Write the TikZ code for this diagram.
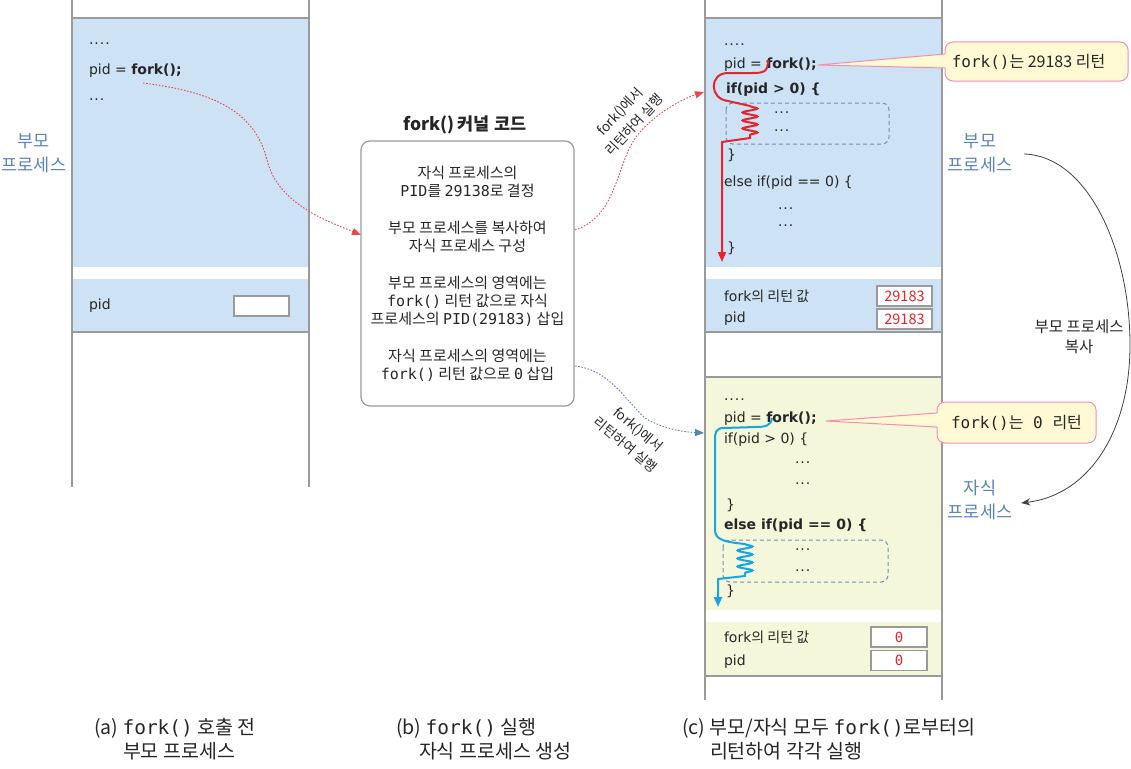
\documentclass[tikz,border=0pt]{standalone}
\usepackage{fontspec}
\setmainfont{Noto Sans CJK KR}
\setmonofont{DejaVu Sans Mono}
\newfontfamily\codefont{DejaVu Sans}
\usetikzlibrary{arrows.meta,decorations.pathmorphing}
\definecolor{pblue}{HTML}{CDE3F5}
\definecolor{cyell}{HTML}{F4F7DA}
\definecolor{lblue}{HTML}{5B84B8}
\definecolor{framec}{HTML}{9A9A9A}
\definecolor{fred}{HTML}{E8232B}
\definecolor{fcyan}{HTML}{17A5E6}
\definecolor{callfill}{HTML}{FFF9D4}
\definecolor{callline}{HTML}{F48DB4}
\definecolor{darr}{HTML}{5A82B0}
\definecolor{dashbox}{HTML}{7090B8}
\begin{document}
\begin{tikzpicture}[x=1pt,y=-1pt,
  every node/.style={inner sep=0pt, outer sep=0pt},
  codetxt/.style={anchor=west, font=\codefont\fontsize{14}{16}\selectfont, text=black!85},
  plabel/.style={align=center, text=lblue, font=\fontsize{17.5}{23.5}\selectfont},
  valbox/.style={draw=framec, fill=white, line width=1.2, minimum width=55, minimum height=20},
  rednum/.style={valbox, text=fred, font=\fontsize{14.5}{16}\selectfont},
  frameline/.style={draw=framec, line width=1.3},
  dbox/.style={draw=dashbox, dash pattern=on 4pt off 3pt, line width=1, rounded corners=7},
  callout/.style={draw=callline, fill=callfill, line width=1, rounded corners=8, font=\fontsize{16}{17}\selectfont, text=black!85},
  reddot/.style={draw=fred!85, line width=0.9, dash pattern=on 1.6pt off 1.6pt, -{Triangle[length=9,width=7]}},
  bluedot/.style={draw=darr, line width=0.9, dash pattern=on 1.6pt off 1.6pt, -{Triangle[length=9,width=7]}},
  rotlab/.style={align=center, font=\fontsize{13.5}{20}\selectfont, text=black!85},
  caption/.style={anchor=north west, align=left, font=\fontsize{19.5}{24}\selectfont, text=black!85},
  coil/.style={decoration={snake, amplitude=7.5pt, segment length=8pt}}
]
\useasboundingbox (0,0) rectangle (1131,768);

% ---------- left panel ----------
\fill[pblue] (72,18) rectangle (309,267);
\fill[pblue] (72,279) rectangle (309,332);
\draw[frameline] (72,0) -- (72,487) (309,0) -- (309,487) (72,18) -- (309,18) (72,332) -- (309,332);
\node[codetxt] (l1) at (89,44) {.\kern1pt.\kern1pt.\kern1pt.};
\node[codetxt] (l2) at (89,71) {pid = \textbf{fork();}};
\node[codetxt] (l3) at (89,100) {.\kern1pt.\kern1pt.};
\node[codetxt] (l4) at (89,306) {pid};
\node[valbox] (l5) at (261.5,306) {};
\node[plabel] (lpl) at (34,153.5) {부모\\프로세스};
\coordinate (lstart) at (143,83);

% ---------- middle ----------
\node[font=\bfseries\fontsize{17.5}{19}\selectfont, text=black!85] (ktitle) at (465,125) {fork()\,커널 코드};
\node[draw=framec, line width=1.2, rounded corners=9, minimum width=213, minimum height=265,
      align=center, font=\fontsize{15}{18}\selectfont, text=black!85] (kbox) at (467.5,273.5)
{자식 프로세스의\\
{\ttfamily PID}를 {\ttfamily 29138}로 결정\\[19pt]
부모 프로세스를 복사하여\\
자식 프로세스 구성\\[19pt]
부모 프로세스의 영역에는\\
{\ttfamily fork()} 리턴 값으로 자식\\
프로세스의 {\ttfamily PID(29183)} 삽입\\[19pt]
자식 프로세스의 영역에는\\
{\ttfamily fork()} 리턴 값으로 {\ttfamily 0} 삽입};
\coordinate (kin) at (361,235);
\coordinate (kout1) at (575,230);
\coordinate (kout2) at (575,366);
\coordinate (rin1) at (704,92);
\coordinate (rin2) at (704,433);

\draw[reddot] (lstart) .. controls (215,92) and (255,112) .. (267,160) .. controls (278,205) and (330,222) .. (kin);
\draw[reddot] (kout1) .. controls (620,215) and (615,160) .. (640,132) .. controls (660,110) and (685,98) .. (rin1);
\draw[bluedot] (kout2) .. controls (610,370) and (625,400) .. (645,418) .. controls (665,430) and (685,432) .. (rin2);
\node[rotlab, rotate=47] (lab1) at (627,118) {fork()에서\\리턴하여 실행};
\node[rotlab, rotate=-40] (lab2) at (632,437) {fork()에서\\리턴하여 실행};

% ---------- right panel ----------
\fill[pblue] (705,18) rectangle (942,267);
\fill[pblue] (705,279) rectangle (942,332);
\fill[cyell] (705,377) rectangle (942,610);
\fill[cyell] (705,622) rectangle (942,676);
\draw[frameline] (705,0) -- (705,700) (942,0) -- (942,700) (705,18) -- (942,18) (705,332) -- (942,332)
  (705,377) -- (942,377) (705,676) -- (942,676);

% top (parent) code
\draw[dbox] (726,103) rectangle (889,144);
\node[codetxt] (p1) at (724,45) {.\kern1pt.\kern1pt.\kern1pt.};
\node[codetxt] (p2) at (724,65) {pid = \textbf{fork();}};
\node[codetxt, font=\codefont\bfseries\fontsize{14}{16}\selectfont] (p3) at (726,90) {if(pid > 0) \{};
\node[codetxt] (p4) at (774,113) {.\kern1pt.\kern1pt.};
\node[codetxt] (p5) at (774,131) {.\kern1pt.\kern1pt.};
\node[codetxt] (p6) at (727,155) {\}};
\node[codetxt] (p7) at (724,183) {else if(pid == 0) \{};
\node[codetxt] (p8) at (778,209) {.\kern1pt.\kern1pt.};
\node[codetxt] (p9) at (778,226) {.\kern1pt.\kern1pt.};
\node[codetxt] (p10) at (727,248) {\}};
\node[codetxt, align=left, font=\codefont\fontsize{14}{21}\selectfont] (p11) at (724,307.5) {fork{\rmfamily 의 리턴 값}\\pid};
\node[rednum] (p13) at (904.5,296) {29183};
\node[rednum] (p14) at (904.5,319) {29183};

\draw[fred, line width=2, -{Triangle[length=10,width=8]}]
  (768,60) .. controls (768,72) and (764,73) .. (752,73) -- (728,73)
  .. controls (709,73) and (709,99) .. (728,101) -- (750,106)
  decorate[coil] {-- (750,138)}
  -- (722,142) -- (722,262);

% bottom (child) code
\draw[dbox] (723,540) rectangle (888,582);
\node[codetxt] (c1) at (724,400) {.\kern1pt.\kern1pt.\kern1pt.};
\node[codetxt] (c2) at (724,419) {pid = \textbf{fork();}};
\node[codetxt] (c3) at (724,440) {if(pid > 0) \{};
\node[codetxt] (c4) at (795,463) {.\kern1pt.\kern1pt.};
\node[codetxt] (c5) at (795,484) {.\kern1pt.\kern1pt.};
\node[codetxt] (c6) at (726,505) {\}};
\node[codetxt, font=\codefont\bfseries\fontsize{14}{16}\selectfont] (c7) at (724,526) {else if(pid == 0) \{};
\node[codetxt] (c8) at (795,550) {.\kern1pt.\kern1pt.};
\node[codetxt] (c9) at (795,571) {.\kern1pt.\kern1pt.};
\node[codetxt] (c10) at (726,591) {\}};
\node[codetxt, align=left, font=\codefont\fontsize{14}{23}\selectfont] (c11) at (724,649.5) {fork{\rmfamily 의 리턴 값}\\pid};
\node[valbox, text=fred, minimum width=56] (c13) at (899,637) {\ttfamily\fontsize{14}{16}\selectfont 0};
\node[valbox, text=fred, minimum width=56] (c14) at (899,660.5) {\ttfamily\fontsize{14}{16}\selectfont 0};

\draw[fcyan, line width=2, -{Triangle[length=10,width=8]}]
  (772,418) .. controls (771,426) and (765,427) .. (755,427) -- (724,428)
  .. controls (716,428) and (715,432) .. (715,440) -- (715,530)
  .. controls (715,540) and (725,542) .. (745,544)
  decorate[coil] {-- (745,576)}
  -- (718,579) -- (718,607);

% callouts
\coordinate (tip1) at (818,65);
\coordinate (tip2) at (826,421);
\node[callout, minimum width=183, minimum height=39] (call1) at (1036.5,61.5) {{\ttfamily fork()}는 29183 리턴\hspace*{16pt}};
\fill[callfill] (tip1) -- ([xshift=3,yshift=7.5]call1.west) -- ([xshift=3,yshift=-6.5]call1.west) -- cycle;
\draw[callline, line width=1] ([yshift=7.5]call1.west) -- (tip1) -- ([yshift=-6.5]call1.west);
\node[callout, minimum width=159, minimum height=41] (call2) at (1016.5,422.5) {{\ttfamily fork()}는{\ttfamily\ 0\ }리턴};
\fill[callfill] (tip2) -- ([xshift=3,yshift=9.5]call2.west) -- ([xshift=3,yshift=-4.5]call2.west) -- cycle;
\draw[callline, line width=1] ([yshift=9.5]call2.west) -- (tip2) -- ([yshift=-4.5]call2.west);

% right labels and copy arrow
\node[plabel] (rpl) at (980,153.5) {부모\\프로세스};
\node[plabel] (rcl) at (980,500) {자식\\프로세스};
\node[align=center, font=\fontsize{15.5}{20}\selectfont, text=black!85] (copylab) at (1079,337) {부모 프로세스\\복사};
\draw[black!75, line width=0.8, -{Stealth[length=9,width=7]}]
  ([xshift=12,yshift=-0.5]rpl.east) .. controls (1088,156) and (1130,250) .. (1130,345)
  .. controls (1130,430) and (1090,495) .. ([xshift=9,yshift=-3]rcl.east);

% captions
\node[caption] (capa) at (94,718) {(a) {\ttfamily fork()} 호출 전\\\hspace*{29pt}부모 프로세스};
\node[caption] (capb) at (396,718) {(b) {\ttfamily fork()} 실행\\\hspace*{23pt}자식 프로세스 생성};
\node[caption] (capc) at (682,718) {(c) 부모/자식 모두 {\ttfamily fork()}로부터의\\\hspace*{28pt}리턴하여 각각 실행};
\end{tikzpicture}
\end{document}
